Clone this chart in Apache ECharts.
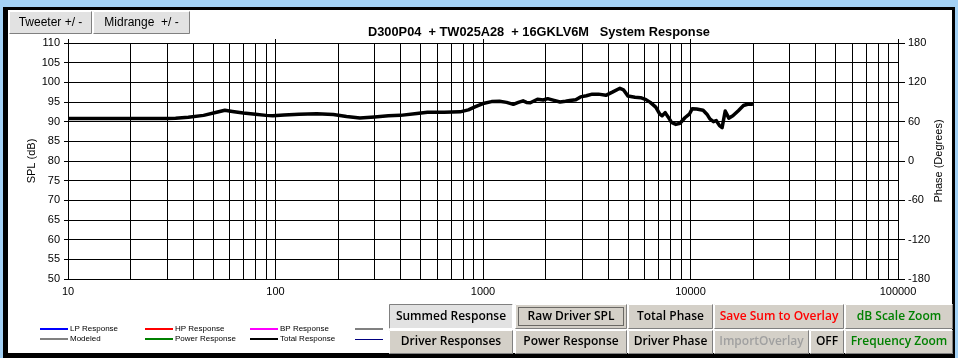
<!DOCTYPE html>
<html>
<head>
<meta charset="utf-8">
<script src="https://cdn.jsdelivr.net/npm/echarts@6/dist/echarts.min.js"></script>
<style>
html,body{margin:0;padding:0;background:#A3D1F5;}
#chart{width:958px;height:358px;}
</style>
</head>
<body>
<div id="chart"></div>
<script>
// ---- data ----
var chartTitle = 'D300P04  + TW025A28  + 16GKLV6M   System Response';
var freqHz = [10,20,30,33,38,45,52,57,62,70,80,90,97,110,130,158,190,220,255,300,350,400,480,540,650,776,850,920,1000,1100,1200,1300,1400,1480,1560,1620,1690,1830,1950,2050,2200,2350,2500,2620,2800,2950,3150,3360,3600,3910,4200,4570,4750,5000,5400,5750,6100,6400,6800,7100,7300,7550,7800,8100,8500,8900,9400,9900,10200,10700,11500,12000,12400,12900,13300,13800,14200,14700,15000,15300,16000,17000,18000,19000,20000];
var splDb = [90.8,90.8,90.8,90.85,91.1,91.6,92.4,92.9,92.6,92.2,91.9,91.6,91.5,91.7,91.9,92.0,91.8,91.3,90.95,91.2,91.5,91.6,92.1,92.4,92.4,92.5,93.0,93.8,94.6,95.1,95.2,94.9,94.4,94.9,95.3,94.9,94.8,95.7,95.5,95.85,95.4,95.0,95.2,95.4,95.6,96.3,96.6,97.0,97.0,96.7,97.5,98.5,98.1,96.5,96.2,96.1,95.6,94.9,93.7,92.0,91.5,92.3,91.2,89.8,89.3,89.6,91.0,92.0,93.3,93.2,92.9,91.9,90.7,90.0,90.3,89.0,88.5,92.7,91.8,90.9,91.5,92.8,94.1,94.5,94.4];
var xTickLabels = ['10','100','1000','10000','100000'];
var splTicks = {min:50, max:110, step:5};
var phaseTicks = {min:-180, max:180, step:60};
var legendRow1 = [['LP Response','#0000FF'],['HP Response','#FF0000'],['BP Response','#FF00FF'],['','#808080']];
var legendRow2 = [['Modeled','#808080'],['Power Response','#008000'],['Total Response','#000000'],['','#000080']];
var buttonsRow1 = [['Summed Response','#000000'],['Raw Driver SPL','#000000'],['Total Phase','#000000'],['Save Sum to Overlay','#FF0000'],['dB Scale Zoom','#008000']];
var buttonsRow2 = [['Driver Responses','#000000'],['Power Response','#000000'],['Driver Phase','#000000'],['ImportOverlay','#A0A0A0'],['OFF','#000000'],['Frequency Zoom','#008000']];

// ---- build ----
var seriesData = freqHz.map(function(f,i){return [f, splDb[i]];});
var minorLines = [];
for (var d = 10; d < 100000; d *= 10) {
  for (var k = 2; k <= 9; k++) minorLines.push({xAxis: d*k});
}

var FONT = '"Liberation Sans", Arial, sans-serif';
var BFONT = '"Open Sans", "DejaVu Sans", sans-serif';
var g = [];
// frame
g.push({type:'rect', z:-100, shape:{x:3,y:7,width:952,height:351}, style:{fill:'#000'}, silent:true});
g.push({type:'rect', z:-99, shape:{x:8,y:10,width:944,height:343}, style:{fill:'#fff'}, silent:true});

function button(x,y,w,h,label,color,opts){
  opts = opts || {};
  var fill = opts.hatched ? '#E2E2E2' : '#D4D0C8';
  g.push({type:'rect', z:-50, shape:{x:x,y:y,width:w,height:h}, style:{fill:fill, stroke:null}, silent:true});
  g.push({type:'polyline', z:-49, shape:{points:[[x+0.5,y+h-0.5],[x+0.5,y+0.5],[x+w-0.5,y+0.5]]}, style:{stroke: opts.pressed ? '#808080' : '#FFFFFF', lineWidth:1, fill:null}, silent:true});
  g.push({type:'polyline', z:-49, shape:{points:[[x+0.5,y+h-0.5],[x+w-0.5,y+h-0.5],[x+w-0.5,y+0.5]]}, style:{stroke: opts.pressed ? '#FFFFFF' : '#808080', lineWidth:1, fill:null}, silent:true});
  if (opts.focus) {
    g.push({type:'rect', z:-48, shape:{x:x+3.5,y:y+3.5,width:w-7,height:h-7}, style:{fill:null, stroke:'#000', lineWidth:1, lineDash:[1,1]}, silent:true});
  }
  g.push({type:'text', z:-47, x:x+w/2, y:y+h/2+(opts.dy||0), style:{text:label, fill:color, font:(opts.font||('600 12px '+BFONT)), textAlign:'center', textVerticalAlign:'middle'}, silent:true});
}
// tabs
button(9,11,83,23,'Tweeter +/ -','#000',{hatched:true,font:'12px '+FONT});
button(93,11,97,23,'Midrange  +/ -','#000',{hatched:true,font:'12px '+FONT});
// bottom buttons
var row1x = [[389,124],[515,112],[628,85],[714,130],[845,108]];
var row2x = [[389,124],[515,112],[628,85],[714,95],[810,34],[845,108]];
buttonsRow1.forEach(function(b,i){
  button(row1x[i][0],304,row1x[i][1],25,b[0],b[1],{hatched:i===0,pressed:i===0,focus:i===1});
});
buttonsRow2.forEach(function(b,i){
  button(row2x[i][0],330,row2x[i][1],24,b[0],b[1],{});
});
// legend
var legX = [40,145,250,355];
function legRow(items,y,thinLast){
  items.forEach(function(it,i){
    var x = legX[i];
    var thin = thinLast && i===3;
    var yy = thin ? y+0.5 : y;
    g.push({type:'line', z:-40, shape:{x1:x,y1:yy,x2:x+28,y2:yy}, style:{stroke:it[1], lineWidth:thin?1:2}, silent:true});
    if (it[0]) g.push({type:'text', z:-40, x:x+30, y:y, style:{text:it[0], fill:'#000', font:'8px '+FONT, textVerticalAlign:'middle'}, silent:true});
  });
}
legRow(legendRow1,329,false);
legRow(legendRow2,339,true);

var chart = echarts.init(document.getElementById('chart'));
chart.setOption({
  backgroundColor:'#A3D1F5',
  animation:false,
  title:{text:chartTitle, left:363, top:21, textStyle:{fontFamily:FONT, fontSize:12.8, fontWeight:'bold', color:'#000'}},
  grid:{left:68, right:60, top:43, bottom:79, show:false},
  xAxis:[{
    type:'log', logBase:10, min:10, max:100000, position:'bottom',
    axisLine:{show:true, lineStyle:{color:'#000', width:1}},
    axisTick:{show:false},
    splitLine:{show:true, lineStyle:{color:'#000', width:1}},
    axisLabel:{color:'#000', fontFamily:FONT, fontSize:11, margin:7,
      formatter:function(v){ var s=String(Math.round(v)); return xTickLabels.indexOf(s)>=0?s:''; }}
  },{
    type:'log', logBase:10, min:10, max:100000, position:'top',
    axisLine:{show:false}, axisTick:{show:true, length:4, lineStyle:{color:'#000'}},
    axisLabel:{show:false}, splitLine:{show:false}
  }],
  yAxis:[{
    type:'value', min:splTicks.min, max:splTicks.max, interval:splTicks.step, position:'left',
    name:'SPL (dB)', nameLocation:'middle', nameGap:31, nameRotate:90, nameMoveOverlap:false,
    nameTextStyle:{color:'#000', fontFamily:FONT, fontSize:11},
    axisLine:{show:true, lineStyle:{color:'#000'}},
    axisTick:{show:true, length:4, lineStyle:{color:'#000'}},
    splitLine:{show:true, lineStyle:{color:'#000', width:1}},
    axisLabel:{color:'#000', fontFamily:FONT, fontSize:11, margin:8}
  },{
    type:'value', min:phaseTicks.min, max:phaseTicks.max, interval:phaseTicks.step, position:'right',
    name:'Phase (Degrees)', nameLocation:'middle', nameGap:35, nameRotate:90, nameMoveOverlap:false,
    nameTextStyle:{color:'#000', fontFamily:FONT, fontSize:11},
    axisLine:{show:true, lineStyle:{color:'#000'}},
    axisTick:{show:true, length:7, lineStyle:{color:'#000'}},
    splitLine:{show:false},
    axisLabel:{color:'#000', fontFamily:FONT, fontSize:11, margin:10}
  }],
  series:[{
    type:'line', xAxisIndex:0, yAxisIndex:0, data:seriesData,
    showSymbol:false, symbol:'none', smooth:false,
    lineStyle:{color:'#000', width:3.5, join:'round'},
    z:5,
    markLine:{silent:true, symbol:['none','none'], label:{show:false},
      lineStyle:{color:'#000', width:1, type:'solid'}, data:minorLines, animation:false}
  }],
  graphic:g
});
</script>
</body>
</html>
